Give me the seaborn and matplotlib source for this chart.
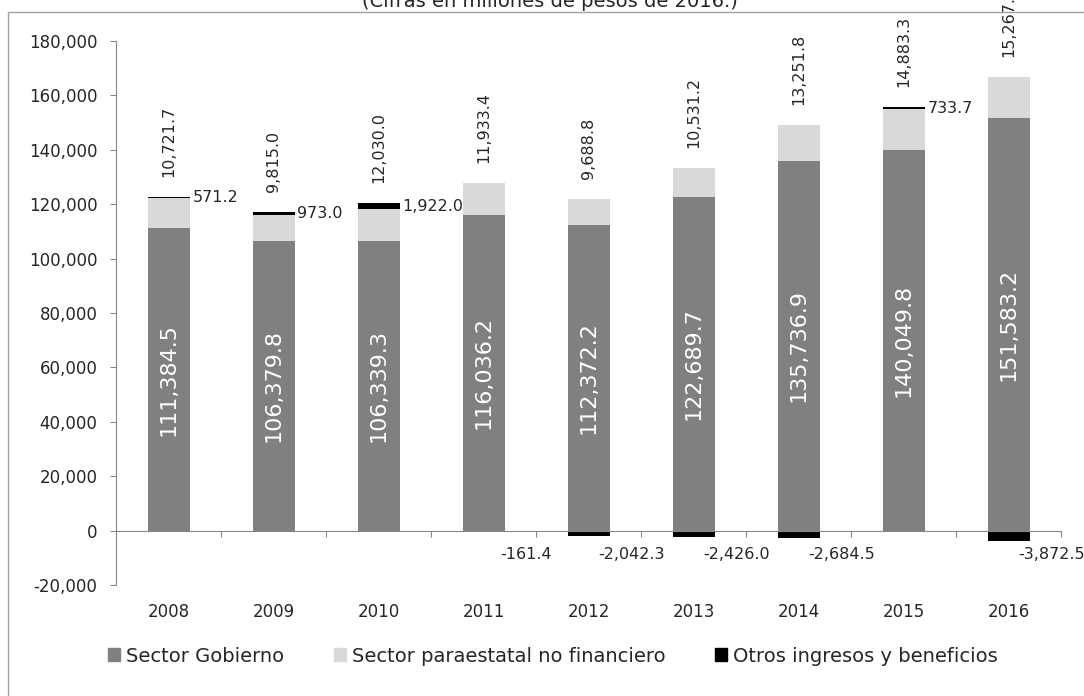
import numpy as np
import matplotlib
matplotlib.use('Agg')
import matplotlib.pyplot as plt
import matplotlib.patches as mpatches
from matplotlib.ticker import FuncFormatter
import seaborn as sns

# datos (millones de pesos de 2016)
years = ['2008', '2009', '2010', '2011', '2012', '2013', '2014', '2015', '2016']
gobierno = [111384.5, 106379.8, 106339.3, 116036.2, 112372.2, 122689.7, 135736.9, 140049.8, 151583.2]
paraestatal = [10721.7, 9815.0, 12030.0, 11933.4, 9688.8, 10531.2, 13251.8, 14883.3, 15267.8]
otros = [571.2, 973.0, 1922.0, -161.4, -2042.3, -2426.0, -2684.5, 733.7, -3872.5]

series_names = ['Sector Gobierno', 'Sector paraestatal no financiero', 'Otros ingresos y beneficios']
title = '(Cifras en millones de pesos de 2016.)'

sns.set_style('white')
plt.rcParams['font.family'] = ['DejaVu Sans']

c_gob = '#808080'
c_par = '#d9d9d9'
c_otr = '#000000'
c_axis = '#868686'

fig = plt.figure(figsize=(10.84, 6.96), dpi=100)
ax = fig.add_axes([116 / 1084, 1 - 585 / 696, 945 / 1084, 544 / 696])

gob = np.array(gobierno)
par = np.array(paraestatal)
otr = np.array(otros)
# los positivos se apilan arriba, los negativos van bajo cero
otr_base = np.where(otr > 0, gob + par, 0)

common = dict(width=0.4, ax=ax, saturation=1, errorbar=None, linewidth=0)
sns.barplot(x=years, y=gob, color=c_gob, **common)
sns.barplot(x=years, y=par, bottom=gob, color=c_par, **common)
sns.barplot(x=years, y=otr, bottom=otr_base, color=c_otr, **common)

ax.set_xlim(-0.5, 8.5)
ax.set_ylim(-20000, 180000)
ax.set_yticks(np.arange(-20000, 180001, 20000))
ax.yaxis.set_major_formatter(FuncFormatter(lambda v, p: f'{v:,.0f}'))
ax.set_xlabel('')
ax.set_ylabel('')

for s in ['top', 'right']:
    ax.spines[s].set_visible(False)
ax.spines['left'].set_color(c_axis)
ax.spines['bottom'].set_color(c_axis)
ax.spines['bottom'].set_position(('data', 0))

ax.set_xticks(np.arange(0.5, 9, 1))
ax.tick_params(axis='x', bottom=True, labelbottom=False, direction='out',
               length=4.3, color=c_axis)
ax.tick_params(axis='y', left=True, direction='out', length=4.3, color=c_axis,
               labelsize=12, pad=9)

for i, y in enumerate(years):
    ax.text(i, -0.05, y, transform=ax.get_xaxis_transform(), ha='center', va='center', fontsize=12)

# etiquetas de datos
for i in range(len(years)):
    ax.text(i, gob[i] / 2, f'{gob[i]:,.1f}', rotation=90, ha='center', va='center',
            color='white', fontsize=16)
    top = gob[i] + par[i] + max(otr[i], 0)
    ax.annotate(f'{par[i]:,.1f}', (i, top), xytext=(0, 20), textcoords='offset pixels',
                rotation=90, ha='center', va='bottom', fontsize=11.5)
    if otr[i] > 0:
        ax.annotate(f'{otr[i]:,.1f}', (i + 0.2, gob[i] + par[i] + otr[i] / 2), xytext=(3, 0),
                    textcoords='offset pixels', ha='left', va='center', fontsize=11.5)
    else:
        ax.annotate(f'{otr[i]:,.1f}', (i + 0.2, 0), xytext=(22, -24),
                    textcoords='offset pixels', ha='center', va='center', fontsize=11.5)

handles = [mpatches.Patch(color=c, label=n) for c, n in zip([c_gob, c_par, c_otr], series_names)]
fig.legend(handles=handles, loc='center', bbox_to_anchor=(553 / 1084, 1 - 656 / 696), ncol=3,
           frameon=False, fontsize=14, handlelength=0.62, handleheight=0.62,
           handletextpad=0.3, columnspacing=2.55)

fig.text(550 / 1084, 1 - 11 / 696, title, ha='center', va='bottom', fontsize=14)

# marco exterior recortado
frame = mpatches.Rectangle((8 / 1084, -0.1), 1.2, 1.1 - 12 / 696, transform=fig.transFigure,
                           fill=False, edgecolor='#a0a0a0', linewidth=1, clip_on=True)
fig.patches.append(frame)

fig.savefig('out.png', dpi=100)
